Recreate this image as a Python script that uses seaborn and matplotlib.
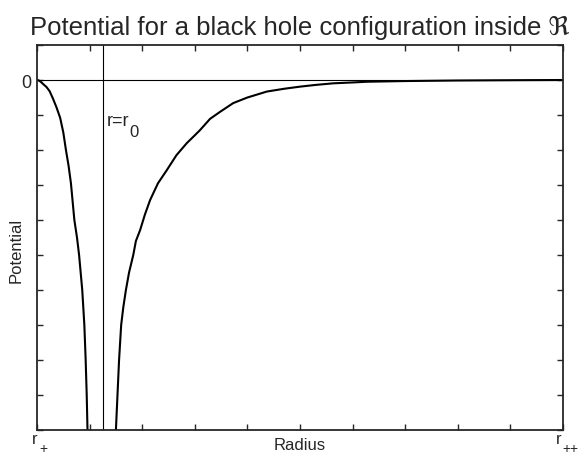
import matplotlib
matplotlib.use('Agg')
import matplotlib.pyplot as plt
import numpy as np
import pandas as pd
import seaborn as sns

# values (x in units of the tick spacing, r+ = 0, r++ = 10)
inner_r = [0.0, 0.03, 0.07, 0.12, 0.18, 0.24, 0.30, 0.37, 0.44, 0.50, 0.55, 0.60, 0.645,
           0.71, 0.76, 0.80, 0.86, 0.90, 0.925, 0.945, 0.96, 0.968]
inner_v = [0.0, -0.01, -0.05, -0.12, -0.2, -0.32, -0.52, -0.78, -1.08, -1.5, -2.0, -2.45, -2.95,
           -4.0, -4.5, -5.0, -6.0, -7.0, -8.0, -9.0, -10.0, -10.5]
outer_r = [1.49, 1.50, 1.53, 1.56, 1.60, 1.64, 1.69, 1.75, 1.83, 1.88, 1.96, 2.05, 2.15, 2.30,
           2.47, 2.65, 2.85, 3.00, 3.10, 3.29, 3.48, 3.73, 4.00, 4.37, 4.70, 5.00, 5.30, 5.63,
           6.00, 6.27, 7.0, 8.0, 9.0, 10.0]
outer_v = [-10.5, -10.0, -9.0, -8.0, -7.0, -6.5, -6.0, -5.5, -5.0, -4.6, -4.29, -3.85, -3.43,
           -2.95, -2.57, -2.15, -1.8, -1.58, -1.43, -1.11, -0.91, -0.66, -0.5, -0.33, -0.25,
           -0.19, -0.14, -0.095, -0.07, -0.05, -0.03, -0.014, -0.006, 0.0]
r0 = 1.25
x_ticks = list(range(11))
y_ticks = list(range(-10, 2))
y_labels = ['0' if t == 0 else '' for t in y_ticks]

sns.set_style('ticks')
plt.rcParams['font.family'] = ['Liberation Sans', 'DejaVu Sans']

fig = plt.figure(figsize=(5.82, 4.60), dpi=100)
ax = fig.add_axes([0.0636, 0.063, 0.9037, 0.837])

ax.axhline(0, color='black', lw=0.8)
ax.axvline(r0, color='black', lw=0.8)

df_in = pd.DataFrame({'r': inner_r, 'v': inner_v})
df_out = pd.DataFrame({'r': outer_r, 'v': outer_v})
sns.lineplot(data=df_in, x='r', y='v', sort=False, color='black', lw=1.5, ax=ax)
sns.lineplot(data=df_out, x='r', y='v', sort=False, color='black', lw=1.5, ax=ax)

ax.set_xlim(0, 10)
ax.set_ylim(-10, 1)
ax.set_xticks(x_ticks)
ax.set_xticklabels([''] * len(x_ticks))
ax.set_yticks(y_ticks)
ax.set_yticklabels(y_labels, fontsize=13)
ax.tick_params(direction='in', length=4, width=1, top=True, right=True)
ax.tick_params(axis='y', pad=4)
for s in ax.spines.values():
    s.set_linewidth(1.3)

# end labels r+ and r++ with large subscripts
xt = ax.get_xaxis_transform()
ax.text(-0.04, -0.034, 'r', fontsize=12, ha='center', va='baseline', transform=xt)
ax.text(0.05, -0.056, '+', fontsize=10, ha='left', va='baseline', transform=xt)
ax.text(9.91, -0.034, 'r', fontsize=12, ha='center', va='baseline', transform=xt)
ax.text(9.99, -0.056, '++', fontsize=10, ha='left', va='baseline', transform=xt)

# r = r0 label
ax.text(r0 + 0.08, -1.17, 'r=r', fontsize=13, va='center', ha='left')
ax.text(1.76, -1.47, '0', fontsize=12, va='center', ha='left')

ax.set_xlabel('Radius', fontsize=12)
ax.xaxis.set_label_coords(0.5, -0.017)
ax.xaxis.label.set_va('top')
ax.set_ylabel('Potential', fontsize=12)
ax.yaxis.set_label_coords(-0.025, 0.47)
ax.set_title('Potential for a black hole configuration inside \u211c', fontsize=18.5, pad=8)

plt.savefig('out.png', dpi=100)
